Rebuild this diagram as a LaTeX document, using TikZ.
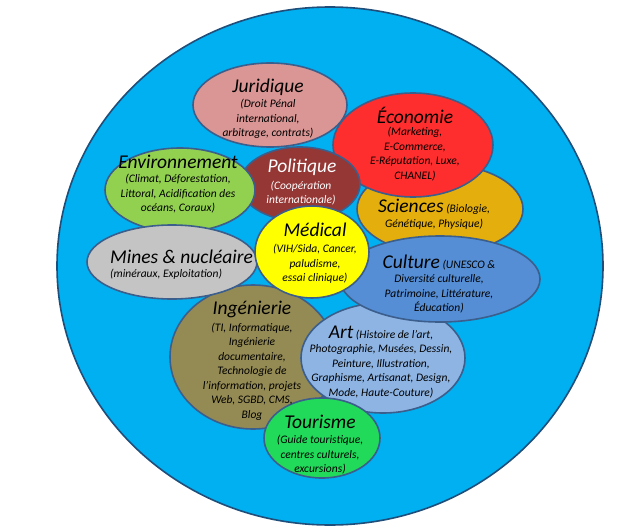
\documentclass[tikz,border=0pt]{standalone}
\usepackage{fontspec}
\setmainfont{Carlito}
\definecolor{bigfill}{HTML}{00B0F0}
\definecolor{bigline}{HTML}{1F4E7A}
\definecolor{bord}{HTML}{3B5E8C}
\definecolor{cJur}{HTML}{D99694}
\definecolor{cEco}{HTML}{FF2E2E}
\definecolor{cEnv}{HTML}{92D050}
\definecolor{cPol}{HTML}{953735}
\definecolor{cSci}{HTML}{E4AF0C}
\definecolor{cMed}{HTML}{FFFF00}
\definecolor{cMin}{HTML}{C4C4C4}
\definecolor{cCul}{HTML}{558ED5}
\definecolor{cIng}{HTML}{948A54}
\definecolor{cArt}{HTML}{8EB4E3}
\definecolor{cTou}{HTML}{22DA5A}
\newcommand{\tsz}{\fontsize{19.5}{14.5}\selectfont}
\tikzset{
  bub/.style={draw=bord, line width=1.6pt},
  tit/.style={inner sep=0pt, font=\itshape\fontsize{19.5}{22}\selectfont},
  sub/.style={inner sep=0pt, align=center, font=\itshape\fontsize{11.5}{14.5}\selectfont},
}
\begin{document}
\begin{tikzpicture}[x=1pt,y=-1pt]
\useasboundingbox[fill=white] (0,0) rectangle (624,530);
% big circle
\draw[draw=bigline, line width=1.6pt, fill=bigfill] (330,266) ellipse [x radius=273, y radius=259];
% bubbles (z-order)
\draw[bub, fill=cJur] (270,105) ellipse [x radius=77, y radius=42];
\draw[bub, fill=cSci] (440,209) ellipse [x radius=83, y radius=45];
\draw[bub, fill=cEco] (413,145) ellipse [x radius=80, y radius=52];
\draw[bub, fill=cPol] (300,184) ellipse [x radius=60, y radius=37];
\draw[bub, fill=cEnv] (180,190) ellipse [x radius=75, y radius=42];
\draw[bub, fill=cIng] (253,357) ellipse [x radius=83, y radius=72];
\draw[bub, fill=cMin] (172,262) ellipse [x radius=85, y radius=37];
\draw[bub, fill=cArt] (383,358) ellipse [x radius=82, y radius=55];
\draw[bub, fill=cCul] (440,279) ellipse [x radius=100, y radius=43];
\draw[bub, fill=cMed] (312,252) ellipse [x radius=57, y radius=46];
\draw[bub, fill=cTou] (322,438) ellipse [x radius=58, y radius=40];
% texts
\node[tit] (jurT) at (268,87) {Juridique};
\node[sub] (jurS) at (268,119) {(Droit Pénal\\international,\\arbitrage, contrats)};
\node[tit] (ecoT) at (415,115) {Économie};
\node[sub] (ecoS) at (415,154) {(Marketing,\\E-Commerce,\\E-Réputation, Luxe,\\CHANEL)};
\node[tit] (envT) at (178,162) {Environnement};
\node[sub] (envS) at (178,194) {(Climat, Déforestation,\\Littoral, Acidification des\\océans, Coraux)};
\node[tit, text=white] (polT) at (302,167) {Politique};
\node[sub, text=white] (polS) at (301,193) {(Coopération\\internationale)};
\node[sub] (sci) at (434,214) {{\tsz Sciences} (Biologie,\\Génétique, Physique)};
\node[tit] (medT) at (315,230) {Médical};
\node[sub] (medS) at (315,264) {(VIH/Sida, Cancer,\\paludisme,\\essai clinique)};
\node[tit, anchor=west] (minT) at (110,257) {Mines \& nucléaire};
\node[sub, anchor=west] (minS) at (110,274) {(minéraux, Exploitation)};
\node[sub] (cul) at (439,284) {{\tsz Culture} (UNESCO \&\\Diversité culturelle,\\Patrimoine, Littérature,\\Éducation)};
\node[tit] (ingT) at (252,309) {Ingénierie};
\node[sub] (ingS) at (252,371.5) {(TI, Informatique,\\Ingénierie\\documentaire,\\Technologie de\\l’information, projets\\Web, SGBD, CMS,\\Blog};
\node[sub] (art) at (381,362) {{\tsz Art} (Histoire de l’art,\\Photographie,  Musées, Dessin,\\Peinture, Illustration,\\Graphisme, Artisanat, Design,\\Mode, Haute-Couture)};
\node[tit] (touT) at (320,422) {Tourisme};
\node[sub] (touS) at (320,455) {(Guide touristique,\\centres culturels,\\excursions)};
\end{tikzpicture}
\end{document}
